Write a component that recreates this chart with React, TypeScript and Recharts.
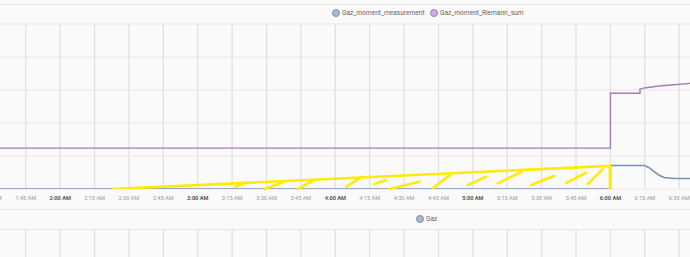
import React from 'react';
import { LineChart, Line, XAxis, YAxis, CartesianGrid, ReferenceLine } from 'recharts';

// time in minutes since midnight
const tickTimes = [90, 105, 120, 135, 150, 165, 180, 195, 210, 225, 240, 255, 270, 285, 300, 315, 330, 345, 360, 375, 390, 405];
const tickLabels = ['1:30 AM', '1:45 AM', '2:00 AM', '2:15 AM', '2:30 AM', '2:45 AM', '3:00 AM', '3:15 AM', '3:30 AM', '3:45 AM', '4:00 AM', '4:15 AM', '4:30 AM', '4:45 AM', '5:00 AM', '5:15 AM', '5:30 AM', '5:45 AM', '6:00 AM', '6:15 AM', '6:30 AM', '6:45 AM'];

const measurementTimes = [75, 360, 360, 374.8, 377, 379.2, 381.4, 383.5, 387.9, 396];
const measurementValues = [0, 0, 0.71, 0.71, 0.64, 0.52, 0.41, 0.35, 0.32, 0.32];

const riemannTimes = [75, 360, 360, 372.9, 372.9, 375.5, 381.2, 387.7, 396];
const riemannValues = [1.24, 1.24, 2.9, 2.9, 3.03, 3.07, 3.12, 3.16, 3.21];

// Gaz chart below: its line is outside the visible crop
const gazTimes = [75, 420];
const gazValues: (number | null)[] = [null, null];

// hand drawn yellow marking
const markTimes = [142.8, 359.8, 359.8];
const markValues = [0, 0.7, 0];
const hatchFrom = [[196.5, 0.07], [209.1, 0], [223.6, 0], [244.8, 0.07], [257.1, 0.15], [263.6, 0], [282.5, 0.02], [297.8, 0.12], [310.9, 0.17], [325.4, 0.12], [340.7, 0.19], [350.1, 0.15]];
const hatchTo = [[201.7, 0.2], [217.8, 0.22], [230.2, 0.25], [251.4, 0.37], [262.2, 0.27], [276.7, 0.22], [290.5, 0.45], [305.8, 0.37], [321.1, 0.52], [335.6, 0.4], [349.4, 0.49], [356.6, 0.6]];

const yTicks = [0, 1, 2, 3, 4, 5];

const PX_PER_MIN = 34.4 / 15;
const DOMAIN: [number, number] = [75, 420];
const CHART_W = Math.round((DOMAIN[1] - DOMAIN[0]) * PX_PER_MIN);
const CHART_LEFT = 611 - (360 - DOMAIN[0]) * PX_PER_MIN;

const BLUE = '#7890b5';
const PURPLE = '#a67bb8';
const YELLOW = '#ffec00';
const FONT = 'Roboto, "Noto Sans", sans-serif';

const toRows = (ts: number[], vs: (number | null)[]) => ts.map((t, i) => ({ t, v: vs[i] }));

const TimeTick = (props: any) => {
  const { x, y, payload } = props;
  const i = tickTimes.indexOf(payload.value);
  const hour = payload.value % 60 === 0;
  return (
    <text x={x} y={y + 9} textAnchor="middle" dominantBaseline="central" fontSize={5.6} fontFamily={FONT}
      fontWeight={hour ? 700 : 400} fill={hour ? '#555' : '#999'}>
      {tickLabels[i]}
    </text>
  );
};

const LegendItem = ({ x, y, label, fill, stroke }: { x: number; y: number; label: string; fill: string; stroke: string }) => (
  <>
    <span style={{ position: 'absolute', left: x - 4, top: y - 4, width: 8, height: 8, boxSizing: 'border-box', borderRadius: '50%', background: fill, border: `1px solid ${stroke}` }} />
    <span style={{ position: 'absolute', left: x + 6, top: y - 5, lineHeight: '10px', fontSize: 6.6, fontFamily: FONT, color: '#666', whiteSpace: 'nowrap' }}>{label}</span>
  </>
);

export default function App() {
  const measurement = toRows(measurementTimes, measurementValues);
  const riemann = toRows(riemannTimes, riemannValues);
  const mark = toRows(markTimes, markValues);
  const gaz = toRows(gazTimes, gazValues);
  return (
    <div style={{ position: 'fixed', left: 0, top: 0, width: 690, height: 257, overflow: 'hidden', background: '#fafafa' }}>
      <div style={{ position: 'absolute', left: 0, top: 4, width: 690, height: 1, background: '#e8e8e8' }} />
      <LegendItem x={336} y={13} label="Gaz_moment_measurement" fill="#a9b9d1" stroke={BLUE} />
      <LegendItem x={434} y={13} label="Gaz_moment_Riemann_sum" fill="#cfadde" stroke={PURPLE} />

      <div style={{ position: 'absolute', left: CHART_LEFT, top: 0 }}>
        <LineChart width={CHART_W} height={210} margin={{ top: 24, right: 0, bottom: 0, left: 0 }}>
          <CartesianGrid vertical={false} stroke="#e8e8e8" />
          <CartesianGrid horizontal={false} stroke="#e1e1e1" strokeWidth={1.3} />
          <XAxis dataKey="t" type="number" domain={DOMAIN} ticks={tickTimes} allowDataOverflow
            height={21} axisLine={false} tickLine={false} tickSize={0} tickMargin={0} interval={0} tick={<TimeTick />} />
          <YAxis hide type="number" domain={[0, 5]} ticks={yTicks} allowDataOverflow />
          <Line data={riemann} dataKey="v" type="linear" stroke={PURPLE} strokeWidth={1.4} dot={false} isAnimationActive={false} />
          <Line data={measurement} dataKey="v" type="linear" stroke={BLUE} strokeWidth={1.6} dot={false} isAnimationActive={false} />
          <Line data={mark} dataKey="v" type="linear" stroke={YELLOW} strokeWidth={2.6} dot={false} isAnimationActive={false} />
          {hatchFrom.map((a, i) => (
            <ReferenceLine key={i} segment={[{ x: a[0], y: a[1] }, { x: hatchTo[i][0], y: hatchTo[i][1] }]}
              stroke={YELLOW} strokeWidth={2.6} strokeLinecap="round" ifOverflow="visible" />
          ))}
        </LineChart>
      </div>

      <div style={{ position: 'absolute', left: 0, top: 209, width: 690, height: 1, background: '#e6e6e6' }} />
      <LegendItem x={420} y={219} label="Gaz" fill="#a9b9d1" stroke={BLUE} />
      <div style={{ position: 'absolute', left: 0, top: 229, width: 690, height: 1, background: '#e6e6e6' }} />

      <div style={{ position: 'absolute', left: CHART_LEFT, top: 229 }}>
        <LineChart width={CHART_W} height={120} data={gaz} margin={{ top: 0, right: 0, bottom: 0, left: 0 }}>
          <CartesianGrid horizontal={false} stroke="#e1e1e1" strokeWidth={1.3} />
          <XAxis dataKey="t" type="number" domain={DOMAIN} ticks={tickTimes} interval={0} hide />
          <YAxis hide type="number" domain={[0, 5]} />
          <Line dataKey="v" stroke={BLUE} dot={false} isAnimationActive={false} />
        </LineChart>
      </div>
    </div>
  );
}
